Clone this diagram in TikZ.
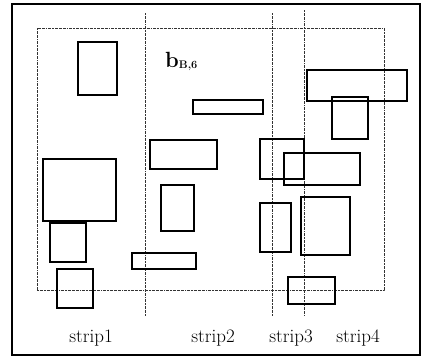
\documentclass[tikz,border=0pt]{standalone}
\usepackage{fontspec}
\begin{document}
\begin{tikzpicture}[x=1pt,y=-1pt,
  item/.style={draw=black,line width=1.1pt},
  guide/.style={draw=black!80,line width=0.6pt,dash pattern=on 2pt off 0.8pt on 0.6pt off 0.8pt},
  lbl/.style={font=\fontsize{19}{22}\selectfont,inner sep=0pt}]
\useasboundingbox (0,0) rectangle (422,356);
% outer frame
\draw[line width=1.3pt] (12,4) rectangle (420,355);
\draw[line width=2.6pt] (12,3) -- (12,356);
\draw[line width=1.8pt] (12,4) -- (420,4);
% dotted region and strip boundaries
\draw[guide] (37,28) rectangle (384,290);
\draw[guide] (145,13) -- (145,316);
\draw[guide] (272,13) -- (272,316);
\draw[guide] (304,10) -- (304,316);
% items
\draw[item] (78,42) rectangle (117,95);
\draw[item] (43,159) rectangle (116,221);
\draw[item] (50,223) rectangle (86,262);
\draw[item] (57,269) rectangle (93,308);
\draw[item] (150,140) rectangle (217,169);
\draw[item] (193,100) rectangle (263,114);
\draw[item] (161,185) rectangle (194,231);
\draw[item] (132,253) rectangle (196,269);
\draw[item] (260,139) rectangle (304,179);
\draw[item] (284,153) rectangle (360,185);
\draw[item] (307,70) rectangle (407,101);
\draw[item] (332,97) rectangle (368,139);
\draw[item] (260,203) rectangle (291,252);
\draw[item] (301,197) rectangle (350,255);
\draw[item] (288,277) rectangle (335,304);
% labels
\node[lbl,anchor=base west] (b) at (165,67) {\fontsize{22}{24}\selectfont\textbf{b}\raisebox{-1pt}{\fontsize{11}{12}\selectfont\textbf{B,6}}};
\node[lbl,anchor=base] (s1) at (91,342) {strip1};
\node[lbl,anchor=base] (s2) at (213,342) {strip2};
\node[lbl,anchor=base] (s3) at (291,342) {strip3};
\node[lbl,anchor=base] (s4) at (358,342) {strip4};
\end{tikzpicture}
\end{document}
